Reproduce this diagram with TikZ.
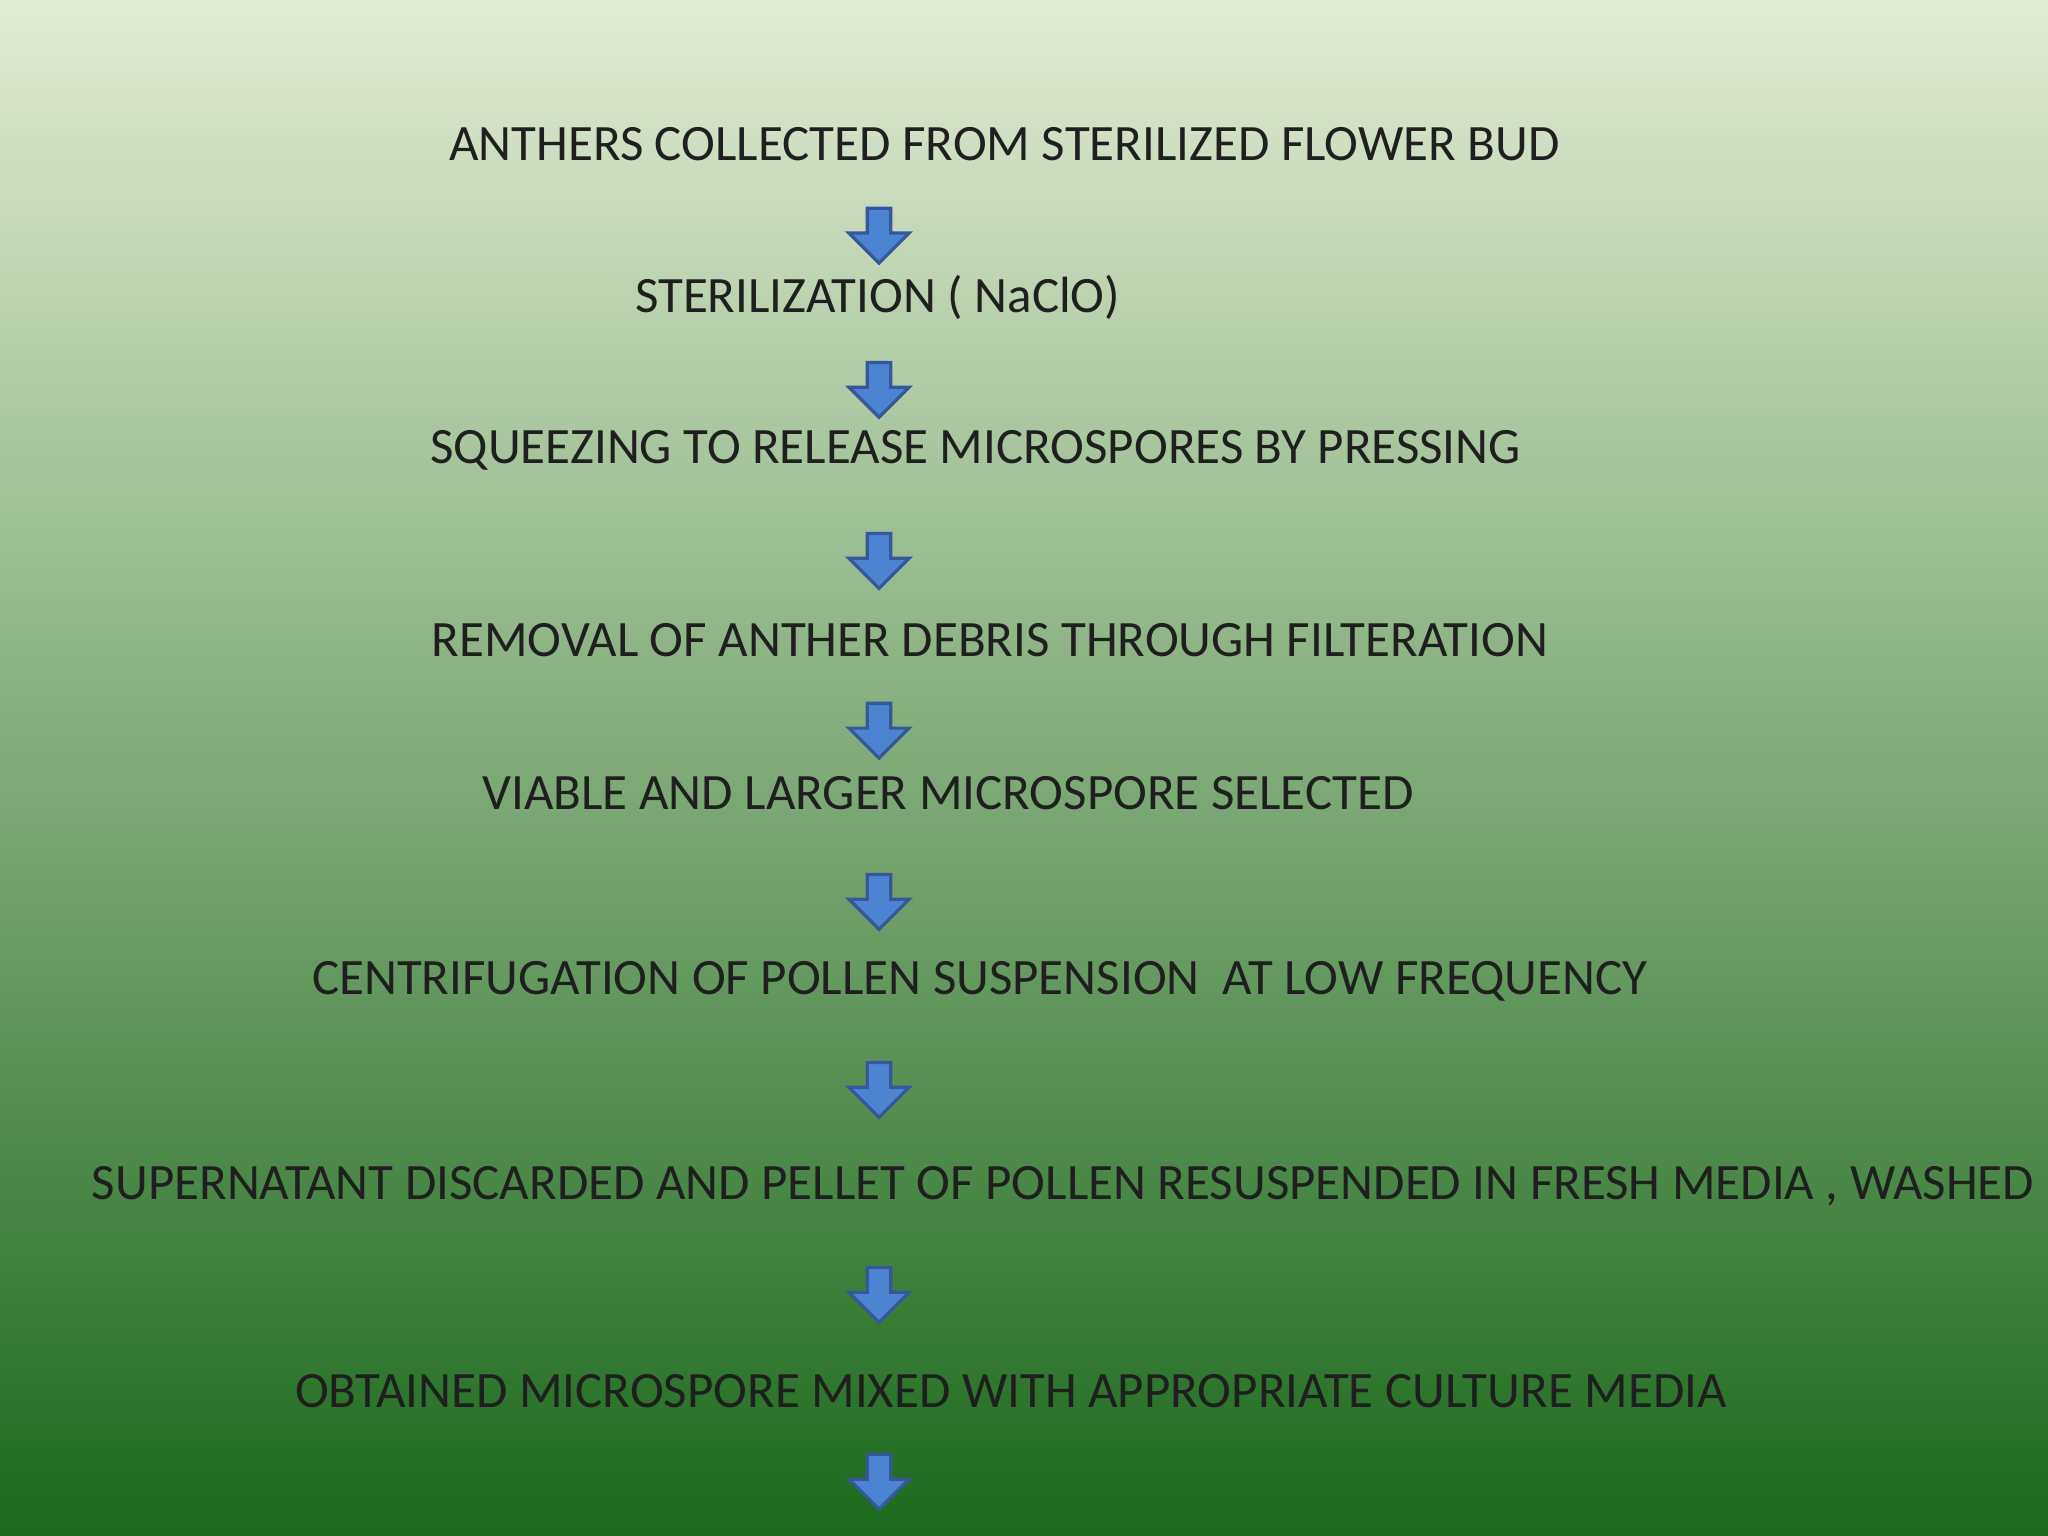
\documentclass[tikz,border=0pt]{standalone}
\usepackage{fontspec}
\setmainfont{Carlito}
\usetikzlibrary{shapes.arrows}
\begin{document}
\begin{tikzpicture}[x=0.01cm,y=-0.01cm,
  lbl/.style={font=\fontsize{11.1}{13}\selectfont, text=black!88, inner sep=0pt},
  darrow/.style={single arrow, shape border rotate=270, fill=arrfill, draw=arrdraw, line width=0.7pt,
    minimum width=0.46cm, minimum height=0.42cm, single arrow head extend=0.09cm, single arrow tip angle=90, inner sep=0.045cm}]
\definecolor{bgtop}{HTML}{E2EBD4}
\definecolor{bgmid}{HTML}{A8C07A}
\definecolor{bgbot}{HTML}{1C6A1C}
\definecolor{arrfill}{HTML}{4C84D2}
\definecolor{arrdraw}{HTML}{34589A}
\shade[top color=bgtop, middle color=bgmid, bottom color=bgbot] (0,0) rectangle (1568,1176);
\useasboundingbox (0,0) rectangle (1568,1176);
\node[lbl] (t1) at (769,110) {ANTHERS COLLECTED FROM STERILIZED FLOWER BUD};
\node[lbl] (t2) at (672,228) {STERILIZATION ( NaClO)};
\node[lbl] (t3) at (747,345) {SQUEEZING TO RELEASE MICROSPORES BY PRESSING};
\node[lbl] (t4) at (758,490) {REMOVAL OF ANTHER DEBRIS THROUGH FILTERATION};
\node[lbl] (t5) at (726,607) {VIABLE AND LARGER MICROSPORE SELECTED};
\node[lbl] (t6) at (750,751) {CENTRIFUGATION OF POLLEN SUSPENSION\ \ AT LOW FREQUENCY};
\node[lbl] (t7) at (814,908) {SUPERNATANT DISCARDED AND PELLET OF POLLEN RESUSPENDED IN FRESH MEDIA , WASHED};
\node[lbl] (t8) at (774,1065) {OBTAINED MICROSPORE MIXED WITH APPROPRIATE CULTURE MEDIA};
\foreach \i/\y in {1/176,2/294,3/425,4/555,5/686,6/830,7/987,8/1130}
  \node[darrow] (a\i) at (673,\y) {};
\end{tikzpicture}
\end{document}
